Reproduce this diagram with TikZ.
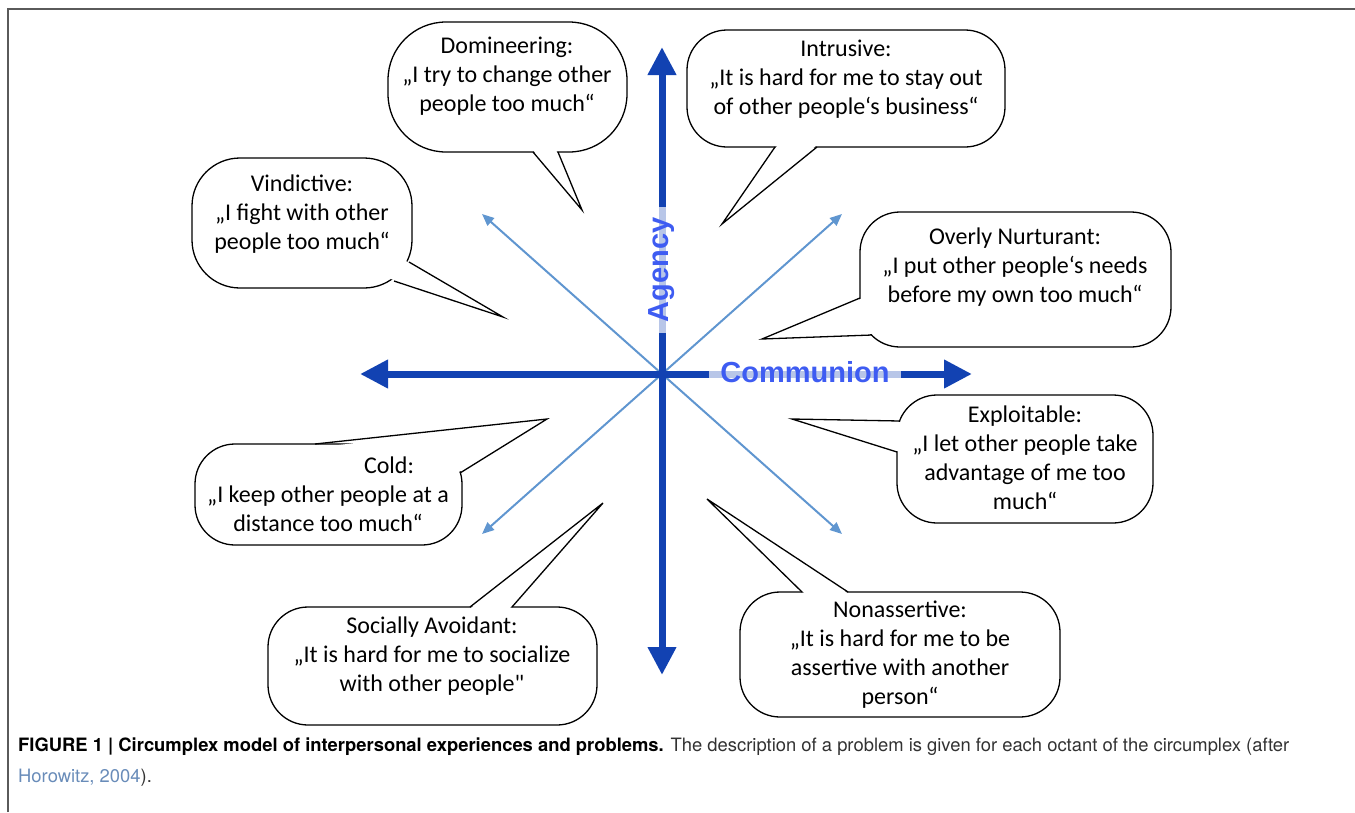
\documentclass[tikz,border=0pt]{standalone}
\usepackage{fontspec}
\setmainfont{Carlito}
\newfontfamily\plainquotes[Ligatures=ResetAll]{Carlito}
\newfontfamily\axisfont{Liberation Sans}
\newfontfamily\capfont{TeX Gyre Heros}
\usepackage{tikz}
\usetikzlibrary{arrows.meta,calc}

\definecolor{axisblue}{RGB}{18,66,178}
\definecolor{diagblue}{RGB}{96,150,208}
\definecolor{labelblue}{RGB}{62,92,242}
\definecolor{citeblue}{RGB}{105,140,185}
\definecolor{framegray}{RGB}{90,90,90}
\definecolor{captext}{RGB}{50,50,50}

\begin{document}
\begin{tikzpicture}[
    x=1pt, y=-1pt,
    axis/.style={draw=axisblue,line width=7pt,-{Triangle[length=28pt,width=27pt]}},
    diag/.style={draw=diagblue,line width=2pt,-{Triangle[length=12pt,width=10pt]}},
    axislabel/.style={font=\axisfont\bfseries\fontsize{29}{34}\selectfont,text=labelblue,fill=white,fill opacity=0.7,text opacity=1,inner xsep=11pt,inner ysep=1pt},
    bubble/.style={draw,line width=1.3pt,fill=white,rounded corners=40pt,inner sep=0pt},
    quote/.style={align=center,font=\fontsize{24}{29}\selectfont,inner sep=0pt},
    tail/.style={line width=1.3pt,line join=miter},
    cover/.style={fill=white},
    caption/.style={anchor=west,inner sep=0pt,text=captext,font=\capfont\fontsize{18.4}{22}\selectfont}
]
    \useasboundingbox (0,0) rectangle (1355,812);

    % frame of the figure
    \draw[framegray,line width=1.5pt] (8,812) -- (8,9) -- (1355,9);

    % centre and arrow ends
    \coordinate (o)  at (662,374);
    \coordinate (up) at (662,47);
    \coordinate (dn) at (662,675);
    \coordinate (lt) at (360,374);
    \coordinate (rt) at (972,374);
    \coordinate (ul) at (482,214);
    \coordinate (ur) at (842,214);
    \coordinate (ll) at (482,534);
    \coordinate (lr) at (842,534);

    % octant diagonals
    \draw[diag] (o) -- (ul);
    \draw[diag] (o) -- (ur);
    \draw[diag] (o) -- (ll);
    \draw[diag] (o) -- (lr);

    % main axes
    \draw[axis] (o) -- (up);
    \draw[axis] (o) -- (dn);
    \draw[axis] (o) -- (lt);
    \draw[axis] (o) -- (rt);

    \node[axislabel,rotate=90] (agency) at (662,270) {Agency};
    \node[axislabel] (communion) at (805,372) {Communion};

    % Domineering
    \node[bubble,rounded corners=58pt,minimum width=239pt,minimum height=130pt] (dom) at (507.5,87) {};
    \coordinate (domtip) at (582,210);
    \fill[cover] ($(533,152)!4pt!(dom.center)$) -- (domtip) -- ($(558,152)!4pt!(dom.center)$) -- cycle;
    \draw[tail] (533,152) -- (domtip) -- (558,152);
    \node[quote] (domtext) at (507,76) {Domineering:\\„I try to change other\\people too much“};

    % Vindictive
    \node[bubble,rounded corners=48pt,minimum width=220pt,minimum height=130pt] (vin) at (302,223) {};
    \coordinate (vintip) at (503,317);
    \fill[cover] ($(409,262)!4pt!(vin.center)$) -- (vintip) -- ($(394,281)!4pt!(vin.center)$) -- cycle;
    \draw[tail] (409,262) -- (vintip) -- (394,281);
    \node[quote] (vintext) at (302,214) {Vindictive:\\„I fight with other\\people too much“};

    % Intrusive
    \node[bubble,minimum width=318pt,minimum height=117pt] (intr) at (846,88.5) {};
    \coordinate (intrtip) at (722,224);
    \fill[cover] ($(775,147)!4pt!(intr.center)$) -- (intrtip) -- ($(817,147)!4pt!(intr.center)$) -- cycle;
    \draw[tail] (775,147) -- (intrtip) -- (817,147);
    \node[quote] (intrtext) at (846,79) {Intrusive:\\„It is hard for me to stay out\\of other people‘s business“};

    % Overly Nurturant
    \node[bubble,minimum width=311pt,minimum height=135pt] (nurt) at (1015.5,279.5) {};
    \coordinate (nurttip) at (762,339);
    \fill[cover] ($(860,298)!4pt!(nurt.center)$) -- (nurttip) -- ($(872,335)!4pt!(nurt.center)$) -- cycle;
    \draw[tail] (860,298) -- (nurttip) -- (872,335);
    \node[quote] (nurttext) at (1015,267) {Overly Nurturant:\\„I put other people‘s needs\\before my own too much“};

    % Exploitable
    \node[bubble,minimum width=256pt,minimum height=128pt] (expl) at (1025,459) {};
    \coordinate (expltip) at (792,419);
    \fill[cover] ($(900,421)!4pt!(expl.center)$) -- (expltip) -- ($(897,452)!4pt!(expl.center)$) -- cycle;
    \draw[tail] (900,421) -- (expltip) -- (897,452);
    \node[quote] (expltext) at (1025,457.5) {Exploitable:\\„I let other people take\\advantage of me too\\much“};

    % Nonassertive
    \node[bubble,minimum width=320pt,minimum height=125pt] (nona) at (900,654.5) {};
    \coordinate (nonatip) at (707,499);
    \fill[cover] ($(802,592)!4pt!(nona.center)$) -- (nonatip) -- ($(848,592)!4pt!(nona.center)$) -- cycle;
    \draw[tail] (802,592) -- (nonatip) -- (848,592);
    \node[quote] (nonatext) at (900,655) {Nonassertive:\\„It is hard for me to be\\assertive with another\\person“};

    % Socially Avoidant
    \node[bubble,minimum width=329pt,minimum height=118pt] (soc) at (432.5,666) {};
    \coordinate (soctip) at (603,503);
    \fill[cover] ($(470,607)!4pt!(soc.center)$) -- (soctip) -- ($(512,607)!4pt!(soc.center)$) -- cycle;
    \draw[tail] (470,607) -- (soctip) -- (512,607);
    \node[quote] (soctext) at (432,656.5) {Socially Avoidant:\\„It is hard for me to socialize\\with other people{\plainquotes"}};

    % Cold
    \node[bubble,minimum width=267pt,minimum height=101pt] (cold) at (328.5,494.5) {};
    \coordinate (coldtip) at (547,419);
    \fill[cover] ($(315,444)!4pt!(cold.center)$) -- (coldtip) -- ($(460,473)!4pt!(cold.center)$) -- cycle;
    \draw[tail] (315,444) -- (coldtip) -- (460,473);
    \node[quote] (coldtext) at (328,494) {\hspace*{122pt}Cold:\\„I keep other people at a\\distance too much“};

    % caption
    \node[caption] (cap1) at (18,747)
        {\textbf{\color{black}FIGURE 1 | Circumplex model of interpersonal experiences and problems.} The description of a problem is given for each octant of the circumplex (after};
    \node[caption] (cap2) at (18,778)
        {\textcolor{citeblue}{Horowitz, 2004}).};
\end{tikzpicture}
\end{document}
